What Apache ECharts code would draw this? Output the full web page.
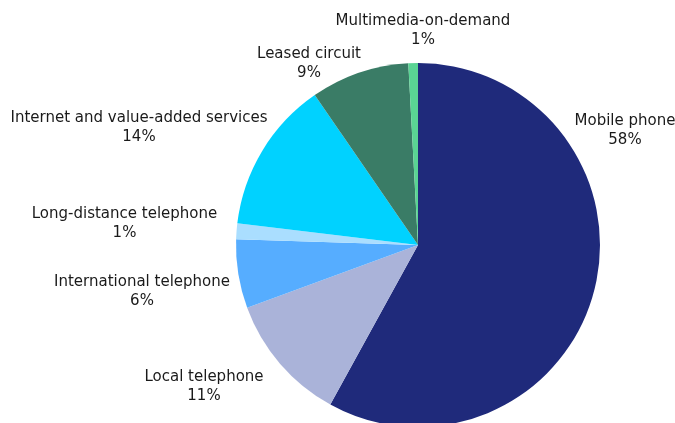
<!DOCTYPE html>
<html>
<head>
<meta charset="utf-8">
<script src="https://cdn.jsdelivr.net/npm/echarts@6/dist/echarts.min.js"></script>
<style>
  html, body { margin: 0; padding: 0; background: #ffffff; }
  #chart { width: 675px; height: 423px; }
</style>
</head>
<body>
<div id="chart"></div>
<script>
// Revenue share by service (percent of total), clockwise from 12 o'clock
const categories = [
  'Mobile phone',
  'Local telephone',
  'International telephone',
  'Long-distance telephone',
  'Internet and value-added services',
  'Leased circuit',
  'Multimedia-on-demand'
];
const shares = [58.0, 11.4, 6.1, 1.4, 13.5, 8.75, 0.85];
const sliceColors = ['#1f2a7b', '#aab3d9', '#56adff', '#aadeff', '#00d2ff', '#3a7c66', '#5ad494'];

// Centre points of each two-line label block
const labelAnchors = [
  [625, 131],
  [204, 387],
  [142, 291.5],
  [124.5, 224],
  [139, 128],
  [309, 63.5],
  [423, 31]
];

const chart = echarts.init(document.getElementById('chart'), null, { renderer: 'canvas' });

chart.setOption({
  backgroundColor: '#ffffff',
  animation: false,
  series: [{
    type: 'pie',
    center: [418, 245],
    radius: 182,
    startAngle: 90,
    clockwise: true,
    avoidLabelOverlap: false,
    data: categories.map((name, i) => ({
      name: name,
      value: shares[i],
      itemStyle: { color: sliceColors[i] }
    })),
    itemStyle: { borderWidth: 0 },
    label: {
      show: true,
      position: 'outside',
      formatter: p => p.name + '\n' + Math.round(p.value) + '%',
      fontFamily: 'DejaVu Sans',
      fontSize: 15,
      lineHeight: 19,
      color: '#1a1a1a',
      align: 'center'
    },
    labelLine: { show: false },
    labelLayout: params => {
      const a = labelAnchors[params.dataIndex];
      return {
        x: a[0],
        y: a[1],
        align: 'center',
        verticalAlign: 'middle',
        hideOverlap: false
      };
    },
    emphasis: { disabled: true }
  }]
});
</script>
</body>
</html>
